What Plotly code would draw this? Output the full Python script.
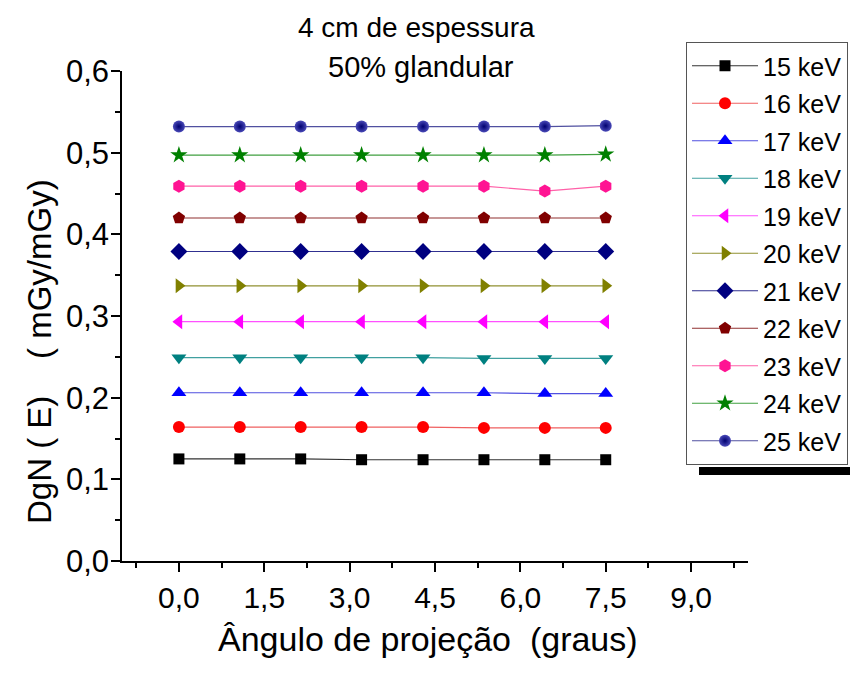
import plotly.graph_objects as go

angles = [0.0, 1.07, 2.14, 3.21, 4.29, 5.36, 6.43, 7.5]

energies = ["15 keV", "16 keV", "17 keV", "18 keV", "19 keV", "20 keV",
            "21 keV", "22 keV", "23 keV", "24 keV", "25 keV"]

dgn_15 = [0.125, 0.125, 0.125, 0.124, 0.124, 0.124, 0.124, 0.124]
dgn_16 = [0.164, 0.164, 0.164, 0.164, 0.164, 0.163, 0.163, 0.163]
dgn_17 = [0.206, 0.206, 0.206, 0.206, 0.206, 0.206, 0.205, 0.205]
dgn_18 = [0.249, 0.249, 0.249, 0.249, 0.249, 0.248, 0.248, 0.248]
dgn_19 = [0.293, 0.293, 0.293, 0.293, 0.293, 0.293, 0.293, 0.293]
dgn_20 = [0.337, 0.337, 0.337, 0.337, 0.337, 0.337, 0.337, 0.337]
dgn_21 = [0.379, 0.379, 0.379, 0.379, 0.379, 0.379, 0.379, 0.379]
dgn_22 = [0.420, 0.420, 0.420, 0.420, 0.420, 0.420, 0.420, 0.420]
dgn_23 = [0.459, 0.459, 0.459, 0.459, 0.459, 0.459, 0.453, 0.459]
dgn_24 = [0.497, 0.497, 0.497, 0.497, 0.497, 0.497, 0.497, 0.498]
dgn_25 = [0.532, 0.532, 0.532, 0.532, 0.532, 0.532, 0.532, 0.533]

series = [dgn_15, dgn_16, dgn_17, dgn_18, dgn_19, dgn_20,
          dgn_21, dgn_22, dgn_23, dgn_24, dgn_25]

marker_colors = ["#000000", "#FF0000", "#0000FF", "#008080", "#FF00FF", "#808000",
                 "#000080", "#800000", "#FF1493", "#008000", "#000080"]
line_colors = ["#333333", "#F06060", "#5050E0", "#40A0A0", "#FF50FF", "#909030",
               "#303090", "#903030", "#FF60A8", "#40A040", "#5050A0"]
symbols = ["square", "circle", "triangle-up", "triangle-down", "triangle-left",
           "triangle-right", "diamond", "pentagon", "hexagon", "star", "circle"]
sizes = [11, 12, 13, 13, 13, 13, 13, 13, 13, 13, 12]

x_ticks = [0, 1.5, 3.0, 4.5, 6.0, 7.5, 9.0]
y_ticks = [0.0, 0.1, 0.2, 0.3, 0.4, 0.5, 0.6]

FONT = "Arial, Liberation Sans, sans-serif"

# plot-area geometry (pixels)
L, R, T, B, W, H = 122, 102, 71, 116, 850, 677
pw, ph = W - L - R, H - T - B


def px_x(v):
    return (v - L) / pw


def px_y(v):
    return (H - B - v) / ph


fig = go.Figure()
for i, (name, ys) in enumerate(zip(energies, series)):
    marker = dict(symbol=symbols[i], size=sizes[i], color=marker_colors[i],
                  line=dict(width=0))
    if i == 10:
        marker["color"] = "#4A4AB8"
        marker["gradient"] = dict(type="radial", color="#000070")
    fig.add_trace(go.Scatter(
        x=angles, y=ys, name=name, mode="lines+markers",
        line=dict(color=line_colors[i], width=1.2),
        marker=marker, legendgroup=name,
    ))

fig.update_layout(
    width=W, height=H,
    margin=dict(l=L, r=R, t=T, b=B, autoexpand=False),
    paper_bgcolor="white", plot_bgcolor="white",
    separators=",.",
    font=dict(family=FONT, color="black"),
    showlegend=True,
    legend=dict(
        x=px_x(848), y=px_y(42), xanchor="right", yanchor="top",
        bgcolor="white", bordercolor="#555555", borderwidth=1,
        font=dict(size=25, family=FONT),
        itemwidth=66, tracegroupgap=2, maxheight=0.95,
    ),
    xaxis=dict(
        range=[-1, 10], tickvals=x_ticks, tickformat=".1f",
        showgrid=False, zeroline=False, automargin=False,
        showline=True, linecolor="black", linewidth=1.5,
        ticks="outside", ticklen=9, tickwidth=1.5, tickcolor="black",
        tickfont=dict(size=30, family=FONT),
        minor=dict(dtick=0.75, tick0=0, ticks="outside", ticklen=5,
                   tickwidth=1.5, tickcolor="black"),
    ),
    yaxis=dict(
        range=[0, 0.6], tickvals=y_ticks, tickformat=".1f",
        showgrid=False, zeroline=False, automargin=False,
        showline=True, linecolor="black", linewidth=1.5,
        ticks="outside", ticklen=9, tickwidth=1.5, tickcolor="black",
        tickfont=dict(size=31, family=FONT), ticklabelstandoff=-4,
        minor=dict(dtick=0.05, tick0=0, ticks="outside", ticklen=5,
                   tickwidth=1.5, tickcolor="black"),
    ),
    annotations=[
        dict(text="4 cm de espessura", x=px_x(416), y=px_y(27), xref="paper",
             yref="paper", showarrow=False, font=dict(size=28, family=FONT),
             xanchor="center", yanchor="middle"),
        dict(text="50% glandular", x=px_x(421), y=px_y(67), xref="paper",
             yref="paper", showarrow=False, font=dict(size=29, family=FONT),
             xanchor="center", yanchor="middle"),
        dict(text="Ângulo de projeção  (graus)", x=px_x(428), y=px_y(639),
             xref="paper", yref="paper", showarrow=False,
             font=dict(size=34, family=FONT), xanchor="center", yanchor="middle"),
        dict(text="DgN ( E)    ( mGy/mGy)", x=px_x(39), y=px_y(352),
             xref="paper", yref="paper", showarrow=False,
             font=dict(size=33, family=FONT), textangle=-90,
             xanchor="center", yanchor="middle"),
    ],
    shapes=[
        dict(type="rect", xref="paper", yref="paper", layer="below",
             x0=px_x(699), x1=px_x(860), y0=px_y(475), y1=px_y(467),
             fillcolor="black", line=dict(width=0)),
    ],
)

fig.write_html(
    "out.html",
    config={"displayModeBar": False},
    post_script="document.body.style.margin='0';document.body.style.overflow='hidden';",
)
